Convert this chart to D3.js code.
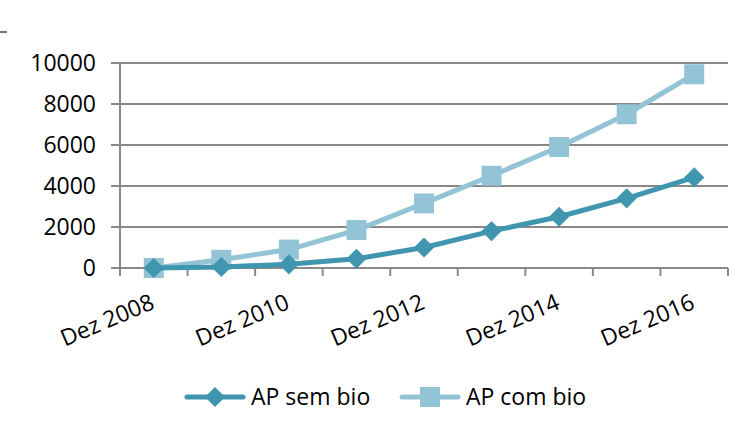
<!DOCTYPE html>
<html>
<head>
<meta charset="utf-8">
<script src="https://cdn.jsdelivr.net/npm/d3@7"></script>
<style>
  body { margin: 0; background: #fff; }
  svg { display: block; font-family: "Open Sans", sans-serif; }
</style>
</head>
<body>
<svg id="chart" width="740" height="427"></svg>
<script>
// data
const categories = ["Dez 2008", "Dez 2009", "Dez 2010", "Dez 2011", "Dez 2012",
  "Dez 2013", "Dez 2014", "Dez 2015", "Dez 2016"];
const tickLabels = ["Dez 2008", "Dez 2010", "Dez 2012", "Dez 2014", "Dez 2016"];
const yTicks = [0, 2000, 4000, 6000, 8000, 10000];
const semBio = [0, 50, 180, 450, 1000, 1800, 2500, 3400, 4420];
const comBio = [0, 400, 900, 1850, 3150, 4500, 5900, 7500, 9450];
const seriesNames = ["AP sem bio", "AP com bio"];

const darkCol = "#3f96ae";
const lightCol = "#93c4d6";
const gridCol = "#898989";
const fs = 23;

const svg = d3.select("#chart");

const x = d3.scaleBand().domain(categories).range([120, 728]).padding(0);
const y = d3.scaleLinear().domain([0, 10000]).range([268, 63]);
const cx = d => x(d) + x.bandwidth() / 2;

// stray mark top left
svg.append("line").attr("x1", 0).attr("x2", 7).attr("y1", 32).attr("y2", 32)
  .attr("stroke", "#777").attr("stroke-width", 2);

// gridlines + y ticks
svg.append("g").selectAll("line").data(yTicks).join("line")
  .attr("x1", 111).attr("x2", 728)
  .attr("y1", d => y(d)).attr("y2", d => y(d))
  .attr("stroke", gridCol).attr("stroke-width", 2);

svg.append("g").selectAll("text").data(yTicks).join("text")
  .attr("x", 96).attr("y", d => y(d))
  .attr("dy", "0.36em")
  .attr("text-anchor", "end")
  .attr("font-size", fs)
  .attr("fill", "#000")
  .text(d => d);

// y axis line
svg.append("line").attr("x1", 120).attr("x2", 120).attr("y1", 62).attr("y2", 276)
  .attr("stroke", gridCol).attr("stroke-width", 2);

// x tick marks at band edges
const edges = categories.map(d => x(d)).concat([x.range()[1]]);
svg.append("g").selectAll("line").data(edges).join("line")
  .attr("x1", d => d).attr("x2", d => d)
  .attr("y1", 268).attr("y2", 276)
  .attr("stroke", gridCol).attr("stroke-width", 2);

// x labels
svg.append("g").selectAll("text").data(tickLabels).join("text")
  .attr("transform", d => `translate(${cx(d) + 2},${308}) rotate(-23)`)
  .attr("text-anchor", "end")
  .attr("font-size", fs)
  .attr("fill", "#000")
  .text(d => d);

const line = d3.line().x((d, i) => cx(categories[i])).y(d => y(d));

// series
function drawSeries(vals, col, shape) {
  svg.append("path").datum(vals)
    .attr("d", line).attr("fill", "none")
    .attr("stroke", col).attr("stroke-width", 5).attr("stroke-linejoin", "round");
  const sym = d3.symbol().type(shape === "square" ? d3.symbolSquare : d3.symbolDiamond2)
    .size(shape === "square" ? 400 : 260);
  svg.append("g").selectAll("path").data(vals).join("path")
    .attr("transform", (d, i) => `translate(${cx(categories[i])},${y(d)})`)
    .attr("d", sym).attr("fill", col);
}
drawSeries(comBio, lightCol, "square");
drawSeries(semBio, darkCol, "diamond");

// legend
const legend = [
  { name: seriesNames[0], col: darkCol, shape: "diamond", x0: 187 },
  { name: seriesNames[1], col: lightCol, shape: "square", x0: 402 }
];
const lg = svg.append("g");
legend.forEach(l => {
  lg.append("line").attr("x1", l.x0).attr("x2", l.x0 + 56)
    .attr("y1", 397).attr("y2", 397)
    .attr("stroke", l.col).attr("stroke-width", 5).attr("stroke-linecap", "round");
  const sym = d3.symbol().type(l.shape === "square" ? d3.symbolSquare : d3.symbolDiamond2)
    .size(l.shape === "square" ? 400 : 260);
  lg.append("path").attr("transform", `translate(${l.x0 + 28},397)`)
    .attr("d", sym).attr("fill", l.col);
  lg.append("text").attr("x", l.x0 + 64).attr("y", 397).attr("dy", "0.36em")
    .attr("font-size", fs).attr("fill", "#000").text(l.name);
});
</script>
</body>
</html>
